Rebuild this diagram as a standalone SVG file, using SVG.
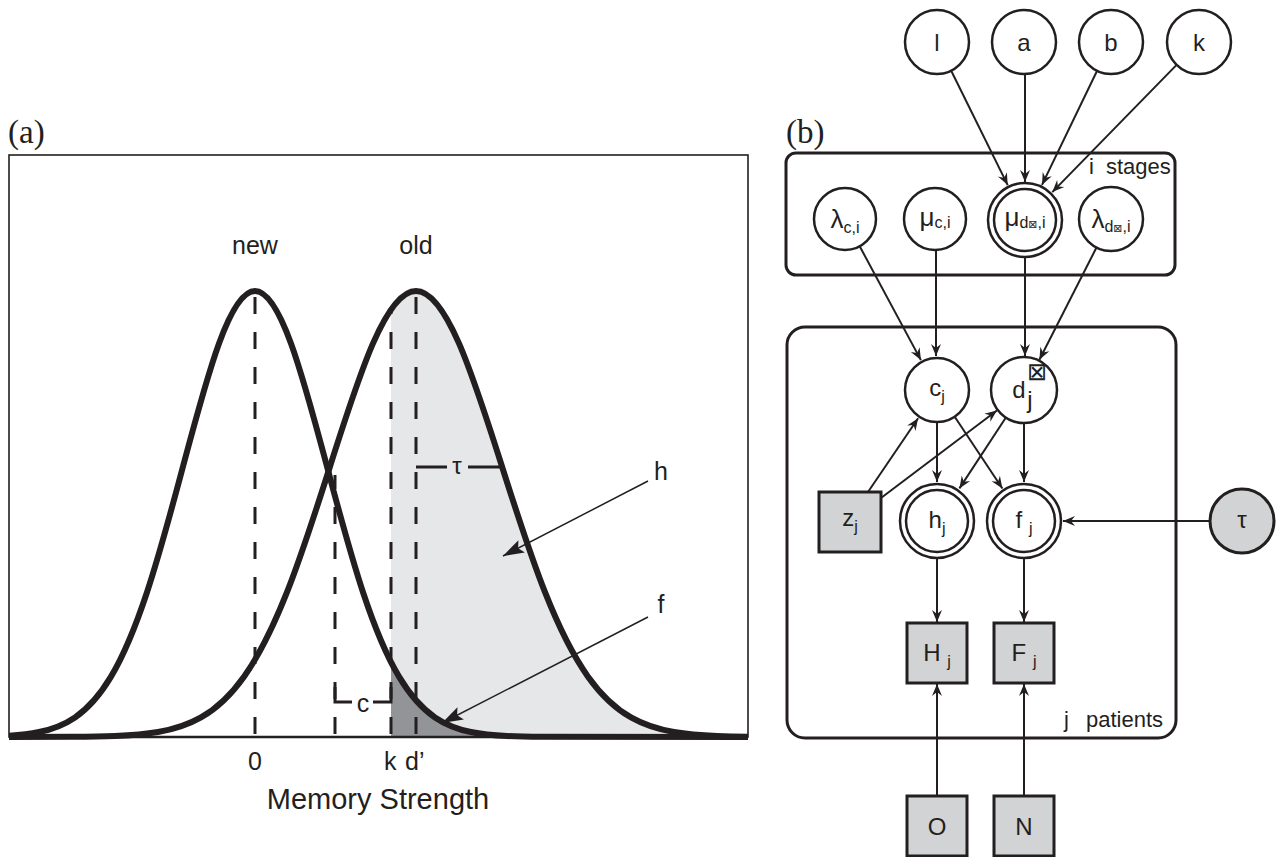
<svg xmlns="http://www.w3.org/2000/svg" xmlns:xlink="http://www.w3.org/1999/xlink" width="1283" height="857" viewBox="0 0 1283 857">
<style>
.lab{font-family:"Liberation Sans",Arial,sans-serif;fill:#231f20}
.panel{font-family:"Liberation Serif","Times New Roman",serif;font-size:33px;fill:#231f20}
.curve{fill:none;stroke:#231f20;stroke-width:6;stroke-linejoin:round}
.dash{stroke:#231f20;stroke-width:3;stroke-dasharray:17 18;fill:none}
.node{fill:#fff;stroke:#231f20;stroke-width:2.5}
.obs{fill:#d1d3d4;stroke:#231f20;stroke-width:3}
.plate{fill:none;stroke:#231f20;stroke-width:3}
.edge{stroke:#231f20;stroke-width:2;fill:none;marker-end:url(#arr)}
.nl{font-family:"Liberation Sans",Arial,sans-serif;font-size:24px;fill:#231f20;text-anchor:middle}
.sub{font-size:16px}
.box{font-family:"DejaVu Sans",sans-serif}
</style>
<defs>
<marker id="arr" markerUnits="userSpaceOnUse" viewBox="-13 -6 14 12" refX="0" refY="0" markerWidth="14" markerHeight="12" orient="auto">
<path d="M0,0 L-12,-5 L-8,0 L-12,5 Z" fill="#231f20"/>
</marker>
<marker id="ah" markerUnits="userSpaceOnUse" viewBox="-22 -8 23 16" refX="0" refY="0" markerWidth="23" markerHeight="16" orient="auto">
<path d="M0,0 L-21,-7 L-17,0 L-21,7 Z" fill="#231f20"/>
</marker>
<clipPath id="frameClip"><rect x="9" y="150" width="739" height="600"/></clipPath>
<clipPath id="rightK"><rect x="391" y="150" width="357" height="590"/></clipPath>
</defs>

<text class="panel" x="8" y="143">(a)</text>
<text class="panel" x="786" y="143">(b)</text>

<!-- Panel (a) -->
<g id="panel-a">
<g clip-path="url(#rightK)">
<path transform="translate(416,737) scale(86,446)" fill="#e6e7e8" d="M-8,0 L-4,-0.000335 C-3.8333,-0.000558 -3.6667,-0.000911 -3.5,-0.002187 C-3.3333,-0.003463 -3.1667,-0.005554 -3,-0.011109 C-2.8333,-0.016664 -2.6667,-0.02563 -2.5,-0.043937 C-2.3333,-0.062244 -2.1667,-0.090223 -2,-0.135335 C-1.8333,-0.180447 -1.6667,-0.243489 -1.5,-0.324652 C-1.3333,-0.405815 -1.1667,-0.505442 -1,-0.606531 C-0.8333,-0.70762 -0.6667,-0.808956 -0.5,-0.882497 C-0.3333,-0.956038 -0.1667,-1 0,-1 C0.1667,-1 0.3333,-0.956038 0.5,-0.882497 C0.6667,-0.808956 0.8333,-0.70762 1,-0.606531 C1.1667,-0.505442 1.3333,-0.405815 1.5,-0.324652 C1.6667,-0.243489 1.8333,-0.180447 2,-0.135335 C2.1667,-0.090223 2.3333,-0.062244 2.5,-0.043937 C2.6667,-0.02563 2.8333,-0.016664 3,-0.011109 C3.1667,-0.005554 3.3333,-0.003463 3.5,-0.002187 C3.6667,-0.000911 3.8333,-0.000558 4,-0.000335 L8,0 Z"/>
<path transform="translate(255,737) scale(72,446)" fill="#929497" d="M-8,0 L-4,-0.000335 C-3.8333,-0.000558 -3.6667,-0.000911 -3.5,-0.002187 C-3.3333,-0.003463 -3.1667,-0.005554 -3,-0.011109 C-2.8333,-0.016664 -2.6667,-0.02563 -2.5,-0.043937 C-2.3333,-0.062244 -2.1667,-0.090223 -2,-0.135335 C-1.8333,-0.180447 -1.6667,-0.243489 -1.5,-0.324652 C-1.3333,-0.405815 -1.1667,-0.505442 -1,-0.606531 C-0.8333,-0.70762 -0.6667,-0.808956 -0.5,-0.882497 C-0.3333,-0.956038 -0.1667,-1 0,-1 C0.1667,-1 0.3333,-0.956038 0.5,-0.882497 C0.6667,-0.808956 0.8333,-0.70762 1,-0.606531 C1.1667,-0.505442 1.3333,-0.405815 1.5,-0.324652 C1.6667,-0.243489 1.8333,-0.180447 2,-0.135335 C2.1667,-0.090223 2.3333,-0.062244 2.5,-0.043937 C2.6667,-0.02563 2.8333,-0.016664 3,-0.011109 C3.1667,-0.005554 3.3333,-0.003463 3.5,-0.002187 C3.6667,-0.000911 3.8333,-0.000558 4,-0.000335 L8,0 Z"/>
</g>
<rect x="9" y="155" width="739" height="582" fill="none" stroke="#231f20" stroke-width="1.6"/>
<line x1="9" y1="737" x2="748" y2="737" stroke="#231f20" stroke-width="2.5"/>
<!-- dashed guides -->
<line class="dash" x1="255" y1="297" x2="255" y2="737"/>
<line class="dash" x1="416" y1="297" x2="416" y2="737"/>
<line class="dash" x1="391" y1="310" x2="391" y2="737" stroke-width="4.5" stroke-dashoffset="13"/>
<line class="dash" x1="335" y1="475" x2="335" y2="737" stroke-dashoffset="3"/>
<g clip-path="url(#frameClip)">
<path class="curve" vector-effect="non-scaling-stroke" transform="translate(255,737) scale(72,446)" d="M-8,0 L-4,-0.000335 C-3.8333,-0.000558 -3.6667,-0.000911 -3.5,-0.002187 C-3.3333,-0.003463 -3.1667,-0.005554 -3,-0.011109 C-2.8333,-0.016664 -2.6667,-0.02563 -2.5,-0.043937 C-2.3333,-0.062244 -2.1667,-0.090223 -2,-0.135335 C-1.8333,-0.180447 -1.6667,-0.243489 -1.5,-0.324652 C-1.3333,-0.405815 -1.1667,-0.505442 -1,-0.606531 C-0.8333,-0.70762 -0.6667,-0.808956 -0.5,-0.882497 C-0.3333,-0.956038 -0.1667,-1 0,-1 C0.1667,-1 0.3333,-0.956038 0.5,-0.882497 C0.6667,-0.808956 0.8333,-0.70762 1,-0.606531 C1.1667,-0.505442 1.3333,-0.405815 1.5,-0.324652 C1.6667,-0.243489 1.8333,-0.180447 2,-0.135335 C2.1667,-0.090223 2.3333,-0.062244 2.5,-0.043937 C2.6667,-0.02563 2.8333,-0.016664 3,-0.011109 C3.1667,-0.005554 3.3333,-0.003463 3.5,-0.002187 C3.6667,-0.000911 3.8333,-0.000558 4,-0.000335 L8,0"/>
<path class="curve" vector-effect="non-scaling-stroke" transform="translate(416,737) scale(86,446)" d="M-8,0 L-4,-0.000335 C-3.8333,-0.000558 -3.6667,-0.000911 -3.5,-0.002187 C-3.3333,-0.003463 -3.1667,-0.005554 -3,-0.011109 C-2.8333,-0.016664 -2.6667,-0.02563 -2.5,-0.043937 C-2.3333,-0.062244 -2.1667,-0.090223 -2,-0.135335 C-1.8333,-0.180447 -1.6667,-0.243489 -1.5,-0.324652 C-1.3333,-0.405815 -1.1667,-0.505442 -1,-0.606531 C-0.8333,-0.70762 -0.6667,-0.808956 -0.5,-0.882497 C-0.3333,-0.956038 -0.1667,-1 0,-1 C0.1667,-1 0.3333,-0.956038 0.5,-0.882497 C0.6667,-0.808956 0.8333,-0.70762 1,-0.606531 C1.1667,-0.505442 1.3333,-0.405815 1.5,-0.324652 C1.6667,-0.243489 1.8333,-0.180447 2,-0.135335 C2.1667,-0.090223 2.3333,-0.062244 2.5,-0.043937 C2.6667,-0.02563 2.8333,-0.016664 3,-0.011109 C3.1667,-0.005554 3.3333,-0.003463 3.5,-0.002187 C3.6667,-0.000911 3.8333,-0.000558 4,-0.000335 L8,0"/>
</g>
<!-- c bracket -->
<path d="M335,687 L335,702 L352,702 M373,702 L391,702 L391,687" fill="none" stroke="#231f20" stroke-width="3"/>
<text class="lab" x="363" y="712" font-size="25" text-anchor="middle">c</text>
<!-- tau bracket -->
<path d="M416,467 L447,467 M468,467 L501,467" fill="none" stroke="#231f20" stroke-width="3"/>
<text class="lab" x="457" y="474" font-size="24" text-anchor="middle">τ</text>
<!-- labels -->
<text class="lab" x="255" y="254" font-size="25" text-anchor="middle">new</text>
<text class="lab" x="416" y="254" font-size="25" text-anchor="middle">old</text>
<text class="lab" x="255" y="770" font-size="25" text-anchor="middle">0</text>
<text class="lab" x="384" y="770" font-size="25">k</text>
<text class="lab" x="405" y="770" font-size="25">d’</text>
<text class="lab" x="378" y="809" font-size="29" text-anchor="middle">Memory Strength</text>
<text class="lab" x="661" y="480" font-size="25" text-anchor="middle">h</text>
<text class="lab" x="661" y="613" font-size="25" text-anchor="middle">f</text>
<line x1="648" y1="481" x2="503" y2="556" stroke="#231f20" stroke-width="1.5" marker-end="url(#ah)"/>
<line x1="648" y1="617" x2="442" y2="723" stroke="#231f20" stroke-width="1.5" marker-end="url(#ah)"/>
</g>

<!-- Panel (b) plates -->
<g id="plate-stages">
<rect class="plate" x="786" y="153" width="389" height="122" rx="10"/>
<text class="lab" x="1089" y="174" font-size="22">i</text>
<text class="lab" x="1106" y="174" font-size="22">stages</text>
</g>
<g id="plate-patients">
<rect class="plate" x="787" y="327" width="389" height="411" rx="18"/>
<text class="lab" x="1064" y="727" font-size="22">j</text>
<text class="lab" x="1086" y="727" font-size="22">patients</text>
</g>

<!-- connectors -->
<g id="connectors">
<line class="edge" x1="951.2" y1="70.7" x2="1007.7" y2="185.1"/>
<line class="edge" x1="1025" y1="74" x2="1025" y2="182"/>
<line class="edge" x1="1097.1" y1="70.8" x2="1042" y2="184.9"/>
<line class="edge" x1="1176.6" y1="64.9" x2="1052.3" y2="192.1"/>
<line class="edge" x1="859.7" y1="246.3" x2="920.9" y2="360.1"/>
<line class="edge" x1="936" y1="250" x2="936" y2="356"/>
<line class="edge" x1="1025" y1="257" x2="1025" y2="356"/>
<line class="edge" x1="1096.5" y1="247.5" x2="1039.4" y2="359.7"/>
<line class="edge" x1="937" y1="422" x2="937" y2="482"/>
<line class="edge" x1="954.7" y1="416.7" x2="1002.4" y2="488.5"/>
<line class="edge" x1="1006.4" y1="416.8" x2="959.4" y2="488.4"/>
<line class="edge" x1="1024" y1="422" x2="1024" y2="482"/>
<line class="edge" x1="868" y1="492" x2="918.1" y2="418.3"/>
<line class="edge" x1="881" y1="498" x2="996.9" y2="410.5"/>
<line class="edge" x1="1210" y1="521" x2="1063" y2="521"/>
<line class="edge" x1="937" y1="558" x2="937" y2="622"/>
<line class="edge" x1="1024" y1="558" x2="1024" y2="622"/>
<line class="edge" x1="937" y1="796" x2="937" y2="684"/>
<line class="edge" x1="1024" y1="796" x2="1024" y2="684"/>
</g>

<!-- nodes -->
<g id="node-l"><circle class="node" cx="937" cy="42" r="32"/><text class="nl" x="937" y="51">l</text></g>
<g id="node-a"><circle class="node" cx="1024" cy="42" r="32"/><text class="nl" x="1024" y="51">a</text></g>
<g id="node-b"><circle class="node" cx="1111" cy="42" r="32"/><text class="nl" x="1111" y="51">b</text></g>
<g id="node-k"><circle class="node" cx="1199" cy="42" r="32"/><text class="nl" x="1199" y="51">k</text></g>

<g id="node-lambda-c"><circle class="node" cx="845" cy="219" r="31"/><text class="nl" x="845" y="228"><tspan font-size="26">λ</tspan><tspan class="sub" dy="5">c,i</tspan></text></g>
<g id="node-mu-c"><circle class="node" cx="935" cy="219" r="31"/><text class="nl" x="935" y="226"><tspan font-size="26">μ</tspan><tspan class="sub" dy="2">c,i</tspan></text></g>
<g id="node-mu-d"><circle class="node" cx="1025" cy="220" r="37"/><circle class="node" cx="1025" cy="220" r="31"/><text class="nl" x="1025" y="226"><tspan font-size="26">μ</tspan><tspan class="sub" dy="2">d<tspan class="box" font-size="11">⊠</tspan>,i</tspan></text></g>
<g id="node-lambda-d"><circle class="node" cx="1111" cy="219" r="32"/><text class="nl" x="1111" y="228"><tspan font-size="26">λ</tspan><tspan class="sub" dy="4">d<tspan class="box" font-size="11">⊠</tspan>,i</tspan></text></g>

<g id="node-c"><circle class="node" cx="937" cy="390" r="32"/><text class="nl" x="937" y="396">c<tspan class="sub" dy="6">j</tspan></text></g>
<g id="node-d"><circle class="node" cx="1024" cy="390" r="33"/><text class="nl" x="1019" y="398">d</text><text class="nl box" x="1037" y="380" font-size="8">⊠</text><text class="nl" x="1030" y="408" font-size="16">j</text></g>

<g id="node-z"><rect class="obs" x="819" y="492" width="62" height="60"/><text class="nl" x="850" y="526">z<tspan class="sub" dy="6">j</tspan></text></g>
<g id="node-h"><circle class="node" cx="937" cy="521" r="37"/><circle class="node" cx="937" cy="521" r="31"/><text class="nl" x="937" y="528">h<tspan class="sub" dy="6">j</tspan></text></g>
<g id="node-f"><circle class="node" cx="1024" cy="521" r="37"/><circle class="node" cx="1024" cy="521" r="31"/><text class="nl" x="1024" y="528">f <tspan class="sub" dy="6">j</tspan></text></g>
<g id="node-tau"><circle class="obs" cx="1242" cy="521" r="32" stroke-width="2.5"/><text class="nl" x="1242" y="528">τ</text></g>

<g id="node-H"><rect class="obs" x="907" y="623" width="60" height="60"/><text class="nl" x="937" y="661">H <tspan class="sub" dy="6">j</tspan></text></g>
<g id="node-F"><rect class="obs" x="994" y="623" width="60" height="60"/><text class="nl" x="1024" y="661">F <tspan class="sub" dy="6">j</tspan></text></g>
<g id="node-O"><rect class="obs" x="907" y="796" width="60" height="60"/><text class="nl" x="937" y="835">O</text></g>
<g id="node-N"><rect class="obs" x="994" y="796" width="60" height="60"/><text class="nl" x="1024" y="835">N</text></g>
</svg>
